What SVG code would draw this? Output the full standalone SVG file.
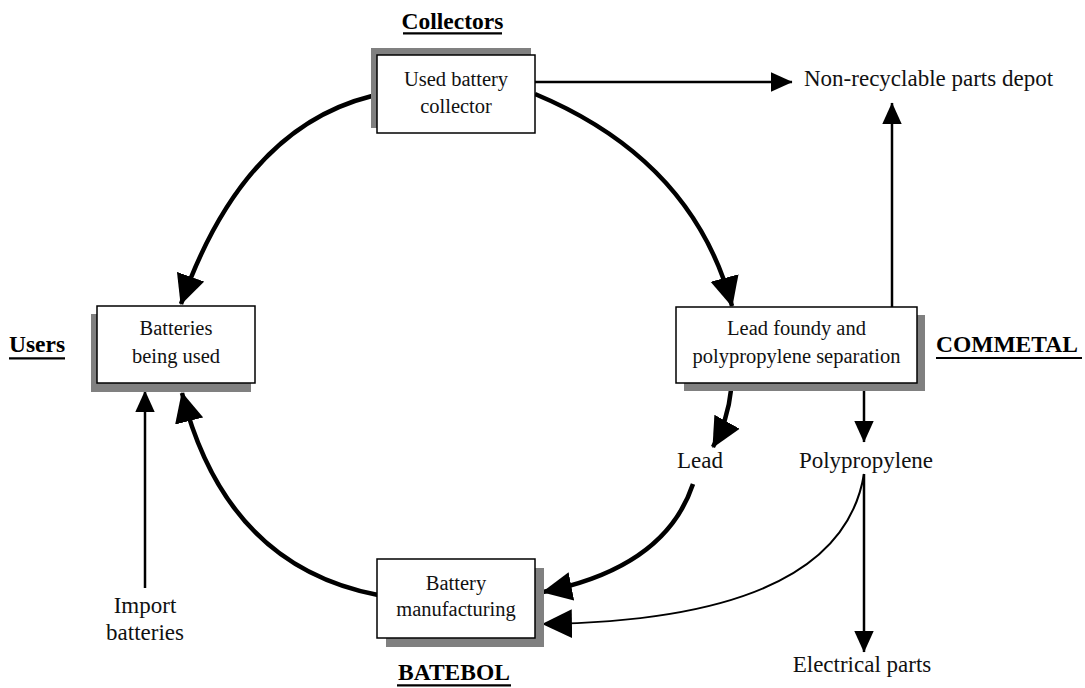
<svg xmlns="http://www.w3.org/2000/svg" width="1085" height="688" viewBox="0 0 1085 688">
<style>
.shadow{fill:#808080}
.box{fill:#fff;stroke:#000;stroke-width:1.5}
.t{font-family:"Liberation Serif","Times New Roman",serif;font-size:20.5px;fill:#111;text-anchor:middle}
.lbl{font-family:"Liberation Serif","Times New Roman",serif;font-size:23px;fill:#111}
.hd{font-family:"Liberation Serif","Times New Roman",serif;font-size:23.5px;font-weight:bold;fill:#000}
.ul{stroke:#000;stroke-width:2.2}
.thick{fill:none;stroke:#000;stroke-width:4.5}
.thin{fill:none;stroke:#000;stroke-width:2.5}
.thin2{fill:none;stroke:#000;stroke-width:2}
</style>
<defs>
<marker id="big" markerUnits="userSpaceOnUse" markerWidth="30" markerHeight="30" viewBox="0 0 28 27" refX="27" refY="13.5" orient="auto">
<path d="M0,0 L28,13.5 L0,27 z" fill="#000"/>
</marker>
<marker id="small" markerUnits="userSpaceOnUse" markerWidth="22" markerHeight="20" viewBox="0 0 20 18" refX="19.5" refY="9" orient="auto">
<path d="M0,0 L20,9 L0,18 z" fill="#000"/>
</marker>
</defs>

<g id="connectors">
<path class="thick" d="M372,96 Q243,128 181,304" marker-end="url(#big)"/>
<path class="thick" d="M535,94 Q693,160 732,306" marker-end="url(#big)"/>
<path class="thick" d="M731,390 Q728,420 713,447" marker-end="url(#big)"/>
<path class="thick" d="M693,484 Q665,568 543,592" marker-end="url(#big)"/>
<path class="thick" d="M378,595 Q226,566 182,393" marker-end="url(#big)"/>
<path class="thin2" d="M864,474 Q840,620 543,624" marker-end="url(#big)"/>
<path class="thin" d="M535,82 L792,82" marker-end="url(#small)"/>
<path class="thin" d="M892,307 L892,103" marker-end="url(#small)"/>
<path class="thin" d="M864,390 L864,442" marker-end="url(#small)"/>
<path class="thin" d="M864,474 L864,652" marker-end="url(#small)"/>
<path class="thin" d="M145,588 L145,391" marker-end="url(#small)"/>
</g>

<g id="collector">
<rect class="shadow" x="371" y="48" width="160" height="80"/>
<rect class="box" x="377" y="55" width="158" height="78"/>
<text class="t" x="456" y="86">Used battery</text>
<text class="t" x="456" y="113">collector</text>
</g>

<g id="users-box">
<rect class="shadow" x="91" y="314" width="160" height="78"/>
<rect class="box" x="97" y="306" width="158" height="77"/>
<text class="t" x="176" y="335">Batteries</text>
<text class="t" x="176" y="363">being used</text>
</g>

<g id="foundry">
<rect class="shadow" x="684" y="315" width="241" height="76"/>
<rect class="box" x="676" y="307" width="241" height="76"/>
<text class="t" x="796.5" y="335">Lead foundy and</text>
<text class="t" x="796.5" y="363">polypropylene separation</text>
</g>

<g id="manufacturing">
<rect class="shadow" x="386" y="568" width="158" height="79"/>
<rect class="box" x="377" y="559" width="158" height="79"/>
<text class="t" x="456" y="590">Battery</text>
<text class="t" x="456" y="616">manufacturing</text>
</g>

<g id="depot"><text class="lbl" x="804" y="86">Non-recyclable parts depot</text></g>
<g id="lead"><text class="lbl" x="700" y="468" text-anchor="middle">Lead</text></g>
<g id="polypropylene"><text class="lbl" x="866" y="468" text-anchor="middle">Polypropylene</text></g>
<g id="electrical"><text class="lbl" x="862" y="672" text-anchor="middle">Electrical parts</text></g>
<g id="import">
<text class="lbl" x="145" y="613" text-anchor="middle">Import</text>
<text class="lbl" x="145" y="640" text-anchor="middle">batteries</text>
</g>

<g id="label-collectors">
<text class="hd" x="452.5" y="29" text-anchor="middle">Collectors</text>
<line class="ul" x1="403" y1="33.3" x2="502" y2="33.3"/>
</g>
<g id="label-users">
<text class="hd" x="9" y="352">Users</text>
<line class="ul" x1="9" y1="358.3" x2="65" y2="358.3"/>
</g>
<g id="label-commetal">
<text class="hd" x="936" y="352">COMMETAL</text>
<line class="ul" x1="936" y1="358" x2="1082" y2="358"/>
</g>
<g id="label-batebol">
<text class="hd" x="454" y="680" text-anchor="middle">BATEBOL</text>
<line class="ul" x1="397" y1="685.3" x2="511" y2="685.3"/>
</g>
</svg>
